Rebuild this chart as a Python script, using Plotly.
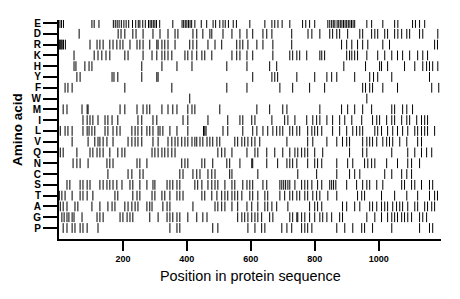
import plotly.graph_objects as go

amino_acids = ["P", "G", "A", "T", "S", "C", "N", "Q", "V", "L",
               "I", "M", "W", "F", "Y", "H", "K", "R", "D", "E"]

pos_E = [3, 8, 14, 103, 110, 125, 170, 176, 182, 188, 195, 203, 210, 218, 230, 240, 248, 253, 262, 270,
         280, 285, 290, 295, 300, 305, 315, 356, 385, 390, 395, 400, 405, 410, 415, 425, 445, 462, 482,
         490, 503, 513, 520, 530, 545, 555, 597, 644, 666, 675, 685, 698, 722, 762, 772, 784, 800, 841,
         847, 853, 858, 863, 870, 875, 880, 885, 890, 895, 900, 905, 910, 915, 920, 925, 963, 978, 1013,
         1050, 1060, 1106, 1115, 1128, 1144]
pos_D = [63, 185, 194, 206, 231, 241, 263, 294, 316, 341, 363, 372, 419, 431, 450, 472, 478, 513, 541,
         566, 588, 606, 638, 650, 666, 728, 779, 791, 816, 847, 856, 869, 878, 903, 941, 950, 978, 988,
         997, 1019, 1028, 1050, 1060, 1072, 1088, 1097, 1128, 1138, 1185]
pos_R = [1, 4, 7, 10, 14, 20, 97, 119, 128, 138, 159, 169, 181, 191, 200, 222, 244, 253, 263, 284, 306,
         310, 322, 331, 341, 363, 409, 419, 431, 466, 488, 509, 556, 566, 575, 591, 619, 638, 669, 728,
         884, 900, 916, 934, 950, 966, 1013, 1034, 1175, 1184]
pos_K = [47, 110, 122, 134, 147, 159, 206, 216, 263, 291, 306, 322, 331, 341, 353, 394, 403, 416, 431,
         447, 456, 478, 541, 556, 566, 588, 606, 669, 722, 731, 744, 753, 775, 816, 822, 831, 900, 909,
         916, 925, 934, 963, 997, 1019, 1041, 1059, 1075, 1097, 1122, 1138, 1153]
pos_H = [47, 53, 81, 94, 103, 259, 322, 369, 416, 525, 588, 659, 681, 891, 959, 1003, 1009, 1028, 1081,
         1113, 1138, 1150, 1159, 1169, 1185]
pos_Y = [56, 66, 166, 172, 184, 259, 306, 310, 606, 666, 675, 684, 744, 800, 838, 853, 869, 925, 972,
         984, 997, 1041, 1159]
pos_F = [19, 28, 41, 206, 353, 525, 588, 691, 731, 784, 831, 950, 959, 972, 981, 1013, 1059, 1166, 1188]
pos_W = [409, 963]
pos_M = [13, 25, 72, 88, 91, 191, 206, 244, 263, 275, 284, 322, 341, 356, 369, 403, 416, 425, 503, 619,
         659, 700, 713, 816, 884, 903, 925, 950, 978, 1041, 1050, 1075, 1088, 1106]
pos_I = [75, 88, 97, 106, 122, 144, 153, 166, 184, 247, 259, 294, 306, 388, 403, 466, 528, 566, 575,
         603, 613, 666, 706, 716, 738, 775, 794, 806, 816, 838, 856, 878, 894, 916, 947, 981, 994, 1003,
         1025, 1041, 1050, 1072, 1088, 1097, 1119, 1134, 1144, 1153]
pos_L = [4, 19, 28, 41, 75, 88, 94, 103, 112, 144, 153, 169, 181, 191, 228, 238, 247, 259, 275, 284,
         294, 310, 316, 325, 347, 369, 403, 452, 456, 460, 513, 528, 575, 606, 619, 638, 653, 669, 681,
         691, 700, 722, 731, 744, 753, 778, 791, 800, 809, 822, 856, 878, 900, 919, 931, 941, 950, 988,
         997, 1009, 1028, 1044, 1059, 1075, 1091, 1113, 1122, 1134, 1144, 1153, 1175]
pos_V = [41, 91, 112, 122, 128, 138, 150, 169, 216, 228, 238, 247, 259, 294, 310, 341, 353, 363, 372,
         384, 394, 403, 416, 425, 431, 441, 450, 463, 472, 481, 494, 503, 550, 559, 572, 581, 591, 603,
         613, 628, 713, 778, 794, 838, 869, 887, 900, 909, 950, 963, 972, 981, 994, 1013, 1025, 1034,
         1044, 1066, 1088, 1122, 1134]
pos_Q = [4, 13, 56, 97, 106, 119, 128, 138, 159, 184, 197, 206, 291, 300, 310, 322, 331, 341, 353, 363,
         497, 509, 519, 541, 588, 613, 622, 650, 675, 700, 722, 738, 747, 759, 769, 778, 800, 825, 909,
         950, 963, 1041, 1091, 1113, 1134, 1150, 1166]
pos_N = [44, 56, 66, 91, 150, 159, 169, 244, 253, 275, 384, 394, 403, 447, 456, 481, 525, 534, 566, 603,
         606, 650, 684, 713, 722, 731, 744, 778, 800, 809, 822, 869, 903, 919, 956, 966, 978, 988, 1025,
         1059, 1091, 1103, 1128]
pos_C = [153, 216, 228, 253, 263, 378, 388, 419, 431, 441, 466, 478, 488, 534, 541, 622, 747, 806, 869,
         909, 925, 941, 1019, 1041, 1072, 1088, 1103]
pos_S = [25, 34, 66, 75, 88, 97, 128, 138, 150, 159, 169, 181, 197, 222, 231, 253, 275, 294, 300, 338,
         347, 356, 369, 378, 425, 434, 447, 466, 478, 488, 497, 519, 541, 550, 575, 588, 597, 606, 638,
         650, 691, 697, 703, 709, 716, 722, 738, 759, 769, 778, 791, 809, 822, 847, 853, 859, 866, 900,
         931, 950, 963, 972, 994, 1013, 1072, 1081, 1103, 1113, 1134, 1159, 1169]
pos_T = [1, 9, 19, 41, 66, 75, 88, 106, 175, 184, 231, 244, 253, 291, 300, 322, 331, 347, 369, 378, 388,
         447, 456, 478, 494, 509, 519, 528, 541, 550, 559, 572, 597, 606, 622, 644, 653, 691, 706, 722,
         731, 744, 753, 769, 778, 794, 806, 816, 841, 869, 934, 947, 956, 1009, 1050, 1088, 1122, 1159,
         1175, 1184]
pos_A = [4, 13, 25, 50, 59, 103, 128, 153, 166, 175, 206, 216, 228, 238, 247, 275, 284, 291, 325, 338,
         347, 419, 488, 497, 509, 519, 541, 559, 588, 603, 622, 644, 653, 666, 681, 716, 784, 800, 809,
         822, 887, 900, 925, 941, 972, 981, 994, 1009, 1019, 1028, 1044, 1056, 1066, 1075, 1091, 1113,
         1122, 1144, 1153, 1166, 1175]
pos_G = [9, 16, 25, 31, 41, 47, 72, 119, 128, 138, 191, 200, 213, 222, 231, 284, 310, 338, 347, 356,
         369, 378, 403, 431, 450, 463, 559, 572, 581, 591, 603, 613, 622, 634, 659, 669, 722, 731, 744,
         747, 759, 769, 784, 800, 816, 825, 838, 853, 878, 887, 963, 988, 1009, 1028, 1041, 1050, 1059,
         1072, 1081, 1091, 1103, 1128, 1138, 1150]
pos_P = [13, 25, 41, 50, 66, 75, 88, 122, 347, 369, 378, 481, 497, 591, 613, 634, 644, 697, 713, 728,
         759, 769, 778, 791, 869, 894, 919, 947, 956, 981, 1041, 1128, 1159, 1169]

positions = {"E": pos_E, "D": pos_D, "R": pos_R, "K": pos_K, "H": pos_H, "Y": pos_Y, "F": pos_F,
             "W": pos_W, "M": pos_M, "I": pos_I, "L": pos_L, "V": pos_V, "Q": pos_Q, "N": pos_N,
             "C": pos_C, "S": pos_S, "T": pos_T, "A": pos_A, "G": pos_G, "P": pos_P}

x_ticks = [200, 400, 600, 800, 1000]
x_max = 1195
x_title = "Position in protein sequence"
y_title = "Amino acid"

xs, ys = [], []
for i, aa in enumerate(amino_acids):
    for p in positions[aa]:
        xs.append(p)
        ys.append(i)

fig = go.Figure()
fig.add_trace(go.Scatter(
    x=xs, y=ys, mode="markers",
    marker=dict(symbol="line-ns", size=7, line=dict(width=1, color="black"), color="black"),
    hoverinfo="x+y", showlegend=False))

font_fam = "Liberation Sans, Arial, sans-serif"
fig.update_layout(
    width=460, height=299,
    margin=dict(l=59, r=19, t=20, b=60, autoexpand=False),
    paper_bgcolor="white", plot_bgcolor="white",
    font=dict(family=font_fam, color="black"),
)
fig.update_xaxes(
    range=[0, x_max], tickvals=x_ticks, ticktext=[str(v) for v in x_ticks],
    ticks="outside", ticklen=10, tickwidth=1.5, tickcolor="black",
    showline=True, linecolor="black", linewidth=2, showgrid=False, zeroline=False,
    tickfont=dict(size=9, family=font_fam, weight="bold"), automargin=False,
)
fig.update_yaxes(
    range=[-1.02, 19.28], tickvals=list(range(len(amino_acids))), ticktext=amino_acids,
    ticks="outside", ticklen=14, tickwidth=1.5, tickcolor="black",
    showline=True, linecolor="black", linewidth=2, showgrid=False, zeroline=False,
    tickfont=dict(size=10, family=font_fam, weight="bold"), automargin=False,
)
fig.add_annotation(text=x_title, xref="paper", yref="paper", x=0.5, y=-0.17,
                   xanchor="center", yanchor="middle", showarrow=False,
                   font=dict(size=14.4, family=font_fam, color="black"))
fig.add_annotation(text=y_title, xref="paper", yref="paper", x=-0.107, y=0.498,
                   xanchor="center", yanchor="middle", showarrow=False, textangle=-90,
                   font=dict(size=13.5, family=font_fam, color="black", weight="bold"))

fig.write_html("out.html", config={"displayModeBar": False},
               post_script="document.body.style.margin='0';document.body.style.overflow='hidden';")
